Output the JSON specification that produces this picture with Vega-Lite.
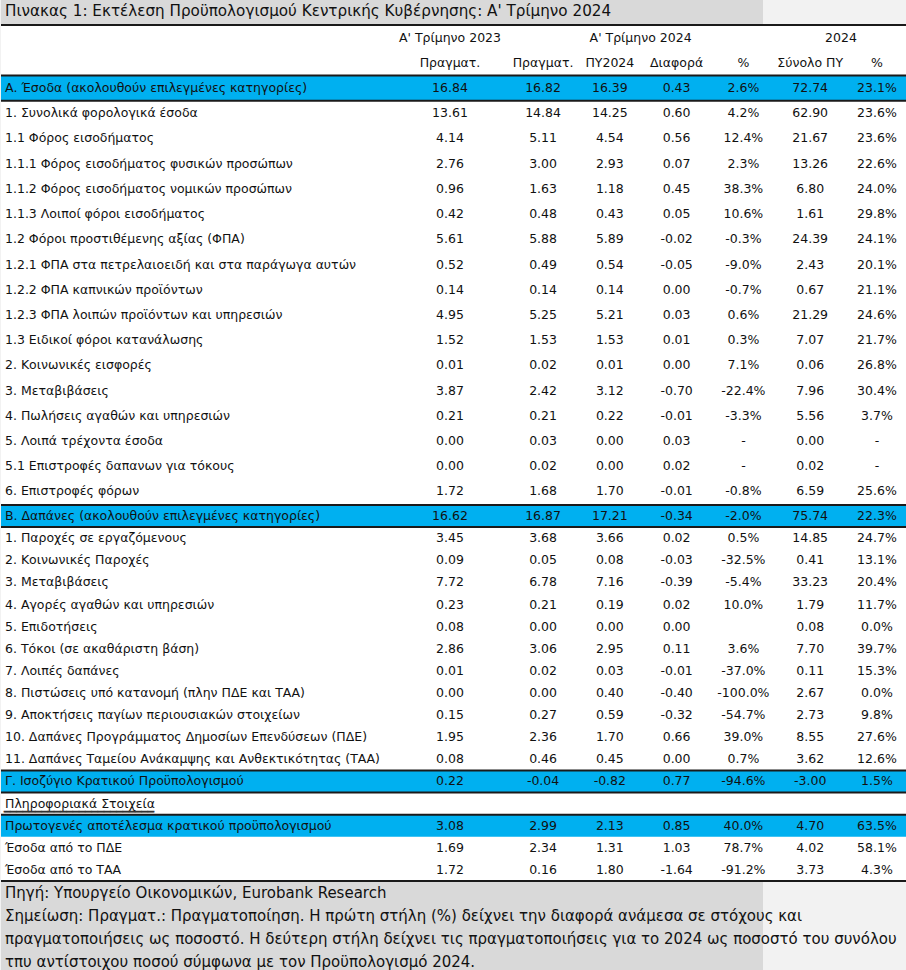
{
  "$schema": "https://vega.github.io/schema/vega-lite/v6.json",
  "background": "#f2f2f2",
  "padding": 0,
  "spacing": 0,
  "config": {"view": {"stroke": null}, "text": {"font": "DejaVu Sans", "color": "#111111"}},
  "datasets": {
    "title": [{"text": "Πινακας 1: Εκτέλεση Προϋπολογισμού Κεντρικής Κυβέρνησης: Α' Τρίμηνο 2024"}],
    "s1": [
      {"i": 0, "kind": "header", "label": "", "c1": "Α' Τρίμηνο 2023", "c2": "", "c3": "", "c4": "", "c5": "", "c6": "", "c7": ""},
      {"i": 1, "kind": "header", "label": "", "c1": "Πραγματ.", "c2": "Πραγματ.", "c3": "ΠΥ2024", "c4": "Διαφορά", "c5": "%", "c6": "Σύνολο ΠΥ", "c7": "%"},
      {"i": 2, "kind": "total", "label": "Α. Έσοδα (ακολουθούν επιλεγμένες κατηγορίες)", "c1": "16.84", "c2": "16.82", "c3": "16.39", "c4": "0.43", "c5": "2.6%", "c6": "72.74", "c7": "23.1%"},
      {"i": 3, "kind": "item", "label": "1. Συνολικά φορολογικά έσοδα", "c1": "13.61", "c2": "14.84", "c3": "14.25", "c4": "0.60", "c5": "4.2%", "c6": "62.90", "c7": "23.6%"},
      {"i": 4, "kind": "item", "label": "1.1 Φόρος εισοδήματος", "c1": "4.14", "c2": "5.11", "c3": "4.54", "c4": "0.56", "c5": "12.4%", "c6": "21.67", "c7": "23.6%"},
      {"i": 5, "kind": "item", "label": "1.1.1 Φόρος εισοδήματος φυσικών προσώπων", "c1": "2.76", "c2": "3.00", "c3": "2.93", "c4": "0.07", "c5": "2.3%", "c6": "13.26", "c7": "22.6%"},
      {"i": 6, "kind": "item", "label": "1.1.2 Φόρος εισοδήματος νομικών προσώπων", "c1": "0.96", "c2": "1.63", "c3": "1.18", "c4": "0.45", "c5": "38.3%", "c6": "6.80", "c7": "24.0%"},
      {"i": 7, "kind": "item", "label": "1.1.3 Λοιποί φόροι εισοδήματος", "c1": "0.42", "c2": "0.48", "c3": "0.43", "c4": "0.05", "c5": "10.6%", "c6": "1.61", "c7": "29.8%"},
      {"i": 8, "kind": "item", "label": "1.2 Φόροι προστιθέμενης αξίας (ΦΠΑ)", "c1": "5.61", "c2": "5.88", "c3": "5.89", "c4": "-0.02", "c5": "-0.3%", "c6": "24.39", "c7": "24.1%"},
      {"i": 9, "kind": "item", "label": "1.2.1 ΦΠΑ στα πετρελαιοειδή και στα παράγωγα αυτών", "c1": "0.52", "c2": "0.49", "c3": "0.54", "c4": "-0.05", "c5": "-9.0%", "c6": "2.43", "c7": "20.1%"},
      {"i": 10, "kind": "item", "label": "1.2.2 ΦΠΑ καπνικών προϊόντων", "c1": "0.14", "c2": "0.14", "c3": "0.14", "c4": "0.00", "c5": "-0.7%", "c6": "0.67", "c7": "21.1%"},
      {"i": 11, "kind": "item", "label": "1.2.3 ΦΠΑ λοιπών προϊόντων και υπηρεσιών", "c1": "4.95", "c2": "5.25", "c3": "5.21", "c4": "0.03", "c5": "0.6%", "c6": "21.29", "c7": "24.6%"},
      {"i": 12, "kind": "item", "label": "1.3 Ειδικοί φόροι κατανάλωσης", "c1": "1.52", "c2": "1.53", "c3": "1.53", "c4": "0.01", "c5": "0.3%", "c6": "7.07", "c7": "21.7%"},
      {"i": 13, "kind": "item", "label": "2. Κοινωνικές εισφορές", "c1": "0.01", "c2": "0.02", "c3": "0.01", "c4": "0.00", "c5": "7.1%", "c6": "0.06", "c7": "26.8%"},
      {"i": 14, "kind": "item", "label": "3. Μεταβιβάσεις", "c1": "3.87", "c2": "2.42", "c3": "3.12", "c4": "-0.70", "c5": "-22.4%", "c6": "7.96", "c7": "30.4%"},
      {"i": 15, "kind": "item", "label": "4. Πωλήσεις αγαθών και υπηρεσιών", "c1": "0.21", "c2": "0.21", "c3": "0.22", "c4": "-0.01", "c5": "-3.3%", "c6": "5.56", "c7": "3.7%"},
      {"i": 16, "kind": "item", "label": "5. Λοιπά τρέχοντα έσοδα", "c1": "0.00", "c2": "0.03", "c3": "0.00", "c4": "0.03", "c5": "-", "c6": "0.00", "c7": "-"},
      {"i": 17, "kind": "item", "label": "5.1 Επιστροφές δαπανων για τόκους", "c1": "0.00", "c2": "0.02", "c3": "0.00", "c4": "0.02", "c5": "-", "c6": "0.02", "c7": "-"},
      {"i": 18, "kind": "item", "label": "6. Επιστροφές φόρων", "c1": "1.72", "c2": "1.68", "c3": "1.70", "c4": "-0.01", "c5": "-0.8%", "c6": "6.59", "c7": "25.6%"}
    ],
    "g1": [
      {"i": 0, "key": "c4", "text": "Α' Τρίμηνο 2024"},
      {"i": 0, "key": "c7", "text": "2024"}
    ],
    "b1": [
      {"i": 0, "edge": "top"},
      {"i": 2, "edge": "top"},
      {"i": 2, "edge": "bottom"}
    ],
    "s2": [
      {"i": 0, "kind": "total", "label": "Β. Δαπάνες (ακολουθούν επιλεγμένες κατηγορίες)", "c1": "16.62", "c2": "16.87", "c3": "17.21", "c4": "-0.34", "c5": "-2.0%", "c6": "75.74", "c7": "22.3%"},
      {"i": 1, "kind": "item", "label": "1. Παροχές σε εργαζόμενους", "c1": "3.45", "c2": "3.68", "c3": "3.66", "c4": "0.02", "c5": "0.5%", "c6": "14.85", "c7": "24.7%"},
      {"i": 2, "kind": "item", "label": "2. Κοινωνικές Παροχές", "c1": "0.09", "c2": "0.05", "c3": "0.08", "c4": "-0.03", "c5": "-32.5%", "c6": "0.41", "c7": "13.1%"},
      {"i": 3, "kind": "item", "label": "3. Μεταβιβάσεις", "c1": "7.72", "c2": "6.78", "c3": "7.16", "c4": "-0.39", "c5": "-5.4%", "c6": "33.23", "c7": "20.4%"},
      {"i": 4, "kind": "item", "label": "4. Αγορές αγαθών και υπηρεσιών", "c1": "0.23", "c2": "0.21", "c3": "0.19", "c4": "0.02", "c5": "10.0%", "c6": "1.79", "c7": "11.7%"},
      {"i": 5, "kind": "item", "label": "5. Επιδοτήσεις", "c1": "0.08", "c2": "0.00", "c3": "0.00", "c4": "0.00", "c5": "", "c6": "0.08", "c7": "0.0%"},
      {"i": 6, "kind": "item", "label": "6. Τόκοι (σε ακαθάριστη βάση)", "c1": "2.86", "c2": "3.06", "c3": "2.95", "c4": "0.11", "c5": "3.6%", "c6": "7.70", "c7": "39.7%"},
      {"i": 7, "kind": "item", "label": "7. Λοιπές δαπάνες", "c1": "0.01", "c2": "0.02", "c3": "0.03", "c4": "-0.01", "c5": "-37.0%", "c6": "0.11", "c7": "15.3%"},
      {"i": 8, "kind": "item", "label": "8. Πιστώσεις υπό κατανομή (πλην ΠΔΕ και ΤΑΑ)", "c1": "0.00", "c2": "0.00", "c3": "0.40", "c4": "-0.40", "c5": "-100.0%", "c6": "2.67", "c7": "0.0%"},
      {"i": 9, "kind": "item", "label": "9. Αποκτήσεις παγίων περιουσιακών στοιχείων", "c1": "0.15", "c2": "0.27", "c3": "0.59", "c4": "-0.32", "c5": "-54.7%", "c6": "2.73", "c7": "9.8%"},
      {"i": 10, "kind": "item", "label": "10. Δαπάνες Προγράμματος Δημοσίων Επενδύσεων (ΠΔΕ)", "c1": "1.95", "c2": "2.36", "c3": "1.70", "c4": "0.66", "c5": "39.0%", "c6": "8.55", "c7": "27.6%"},
      {"i": 11, "kind": "item", "label": "11. Δαπάνες Ταμείου Ανάκαμψης και Ανθεκτικότητας (ΤΑΑ)", "c1": "0.08", "c2": "0.46", "c3": "0.45", "c4": "0.00", "c5": "0.7%", "c6": "3.62", "c7": "12.6%"},
      {"i": 12, "kind": "total", "label": "Γ. Ισοζύγιο Κρατικού Προϋπολογισμού", "c1": "0.22", "c2": "-0.04", "c3": "-0.82", "c4": "0.77", "c5": "-94.6%", "c6": "-3.00", "c7": "1.5%"},
      {"i": 13, "kind": "subhead", "label": "Πληροφοριακά Στοιχεία", "c1": "", "c2": "", "c3": "", "c4": "", "c5": "", "c6": "", "c7": ""},
      {"i": 14, "kind": "total", "label": "Πρωτογενές αποτέλεσμα κρατικού προϋπολογισμού", "c1": "3.08", "c2": "2.99", "c3": "2.13", "c4": "0.85", "c5": "40.0%", "c6": "4.70", "c7": "63.5%"},
      {"i": 15, "kind": "item", "label": "Έσοδα από το ΠΔΕ", "c1": "1.69", "c2": "2.34", "c3": "1.31", "c4": "1.03", "c5": "78.7%", "c6": "4.02", "c7": "58.1%"},
      {"i": 16, "kind": "item", "label": "Έσοδα από το ΤΑΑ", "c1": "1.72", "c2": "0.16", "c3": "1.80", "c4": "-1.64", "c5": "-91.2%", "c6": "3.73", "c7": "4.3%"}
    ],
    "b2": [
      {"i": 0, "edge": "top"},
      {"i": 0, "edge": "bottom"},
      {"i": 12, "edge": "top"},
      {"i": 12, "edge": "bottom"},
      {"i": 14, "edge": "top"},
      {"i": 16, "edge": "bottom"}
    ],
    "notes": [
      {"i": 0, "text": "Πηγή: Υπουργείο Οικονομικών, Eurobank Research"},
      {"i": 1, "text": "Σημείωση: Πραγματ.: Πραγματοποίηση. Η πρώτη στήλη (%) δείχνει την διαφορά ανάμεσα σε στόχους και"},
      {"i": 2, "text": "πραγματοποιήσεις ως ποσοστό. Η δεύτερη στήλη δείχνει τις πραγματοποιήσεις για το 2024 ως ποσοστό του συνόλου"},
      {"i": 3, "text": "τπυ αντίστοιχου ποσού σύμφωνα με τον Προϋπολογισμό 2024."}
    ]
  },
  "vconcat": [
    {
      "width": 762,
      "height": 24,
      "view": {"fill": "#d9d9d9", "stroke": null},
      "data": {"name": "title"},
      "mark": {"type": "text", "align": "left", "baseline": "middle", "dx": 4, "dy": -1, "fontSize": 15.2},
      "encoding": {
        "x": {"datum": 0, "type": "quantitative", "scale": {"domain": [0, 1]}, "axis": null},
        "text": {"field": "text"}
      }
    },
    {
      "hconcat": [
        {
          "width": 386,
          "height": 479,
          "view": {"fill": "white", "stroke": null},
          "layer": [
            {"data": {"name": "s1"}, "transform": [{"filter": "datum.kind === 'total'"}], "mark": {"type": "rect", "color": "#00b0f0"}, "encoding": {"y": {"field": "i", "type": "ordinal", "axis": null, "scale": {"paddingInner": 0, "paddingOuter": 0}}}},
            {"data": {"name": "s1"}, "mark": {"type": "text", "align": "left", "baseline": "middle", "dx": 4, "fontSize": 12.5}, "encoding": {"y": {"field": "i", "type": "ordinal", "axis": null}, "x": {"datum": 0, "type": "quantitative", "scale": {"domain": [0, 1]}, "axis": null}, "text": {"field": "label"}}},
            {"data": {"name": "b1"}, "transform": [{"filter": "datum.edge === 'top'"}], "mark": {"type": "rule", "color": "#1a1a1a", "strokeWidth": 2}, "encoding": {"y": {"field": "i", "type": "ordinal", "axis": null, "bandPosition": 0}}},
            {"data": {"name": "b1"}, "transform": [{"filter": "datum.edge === 'bottom'"}], "mark": {"type": "rule", "color": "#1a1a1a", "strokeWidth": 2}, "encoding": {"y": {"field": "i", "type": "ordinal", "axis": null, "bandPosition": 1}}}
          ]
        },
        {
          "width": 126,
          "height": 479,
          "view": {"fill": "white", "stroke": null},
          "layer": [
            {"data": {"name": "s1"}, "transform": [{"filter": "datum.kind === 'total'"}], "mark": {"type": "rect", "color": "#00b0f0"}, "encoding": {"y": {"field": "i", "type": "ordinal", "axis": null, "scale": {"paddingInner": 0, "paddingOuter": 0}}}},
            {"data": {"name": "s1"}, "mark": {"type": "text", "align": "center", "baseline": "middle", "fontSize": 12.5}, "encoding": {"y": {"field": "i", "type": "ordinal", "axis": null}, "text": {"field": "c1"}}},
            {"data": {"name": "b1"}, "transform": [{"filter": "datum.edge === 'top'"}], "mark": {"type": "rule", "color": "#1a1a1a", "strokeWidth": 2}, "encoding": {"y": {"field": "i", "type": "ordinal", "axis": null, "bandPosition": 0}}},
            {"data": {"name": "b1"}, "transform": [{"filter": "datum.edge === 'bottom'"}], "mark": {"type": "rule", "color": "#1a1a1a", "strokeWidth": 2}, "encoding": {"y": {"field": "i", "type": "ordinal", "axis": null, "bandPosition": 1}}}
          ]
        },
        {
          "width": 394,
          "height": 479,
          "view": {"fill": "white", "stroke": null},
          "layer": [
            {"data": {"name": "s1"}, "transform": [{"filter": "datum.kind === 'total'"}], "mark": {"type": "rect", "color": "#00b0f0"}, "encoding": {"y": {"field": "i", "type": "ordinal", "axis": null, "scale": {"paddingInner": 0, "paddingOuter": 0}}}},
            {"data": {"name": "s1"}, "transform": [{"fold": ["c2", "c3", "c4", "c5", "c6", "c7"], "as": ["key", "val"]}], "mark": {"type": "text", "align": "center", "baseline": "middle", "fontSize": 12.5}, "encoding": {"y": {"field": "i", "type": "ordinal", "axis": null}, "x": {"field": "key", "type": "nominal", "axis": null, "scale": {"type": "point", "padding": 0.45, "domain": ["c2", "c3", "c4", "c5", "c6", "c7"]}}, "text": {"field": "val"}}},
            {"data": {"name": "g1"}, "mark": {"type": "text", "align": "center", "baseline": "middle", "fontSize": 12.5, "dx": -36}, "encoding": {"y": {"field": "i", "type": "ordinal", "axis": null}, "x": {"field": "key", "type": "nominal", "axis": null}, "text": {"field": "text"}}},
            {"data": {"name": "b1"}, "transform": [{"filter": "datum.edge === 'top'"}], "mark": {"type": "rule", "color": "#1a1a1a", "strokeWidth": 2}, "encoding": {"y": {"field": "i", "type": "ordinal", "axis": null, "bandPosition": 0}}},
            {"data": {"name": "b1"}, "transform": [{"filter": "datum.edge === 'bottom'"}], "mark": {"type": "rule", "color": "#1a1a1a", "strokeWidth": 2}, "encoding": {"y": {"field": "i", "type": "ordinal", "axis": null, "bandPosition": 1}}}
          ]
        }
      ],
      "spacing": 0,
      "bounds": "flush"
    },
    {
      "hconcat": [
        {
          "width": 386,
          "height": 376,
          "view": {"fill": "white", "stroke": null},
          "layer": [
            {"data": {"name": "s2"}, "transform": [{"filter": "datum.kind === 'total'"}], "mark": {"type": "rect", "color": "#00b0f0"}, "encoding": {"y": {"field": "i", "type": "ordinal", "axis": null, "scale": {"paddingInner": 0, "paddingOuter": 0}}}},
            {"data": {"name": "s2"}, "mark": {"type": "text", "align": "left", "baseline": "middle", "dx": 4, "fontSize": 12.5}, "encoding": {"y": {"field": "i", "type": "ordinal", "axis": null}, "x": {"datum": 0, "type": "quantitative", "scale": {"domain": [0, 1]}, "axis": null}, "text": {"field": "label"}}},
            {"data": {"name": "s2"}, "transform": [{"filter": "datum.kind === 'subhead'"}], "mark": {"type": "text", "align": "left", "baseline": "middle", "dx": 3, "dy": 1.5, "fontSize": 12.5, "fontWeight": "bold", "color": "#333333", "stroke": "#333333", "strokeWidth": 0.7}, "encoding": {"y": {"field": "i", "type": "ordinal", "axis": null}, "x": {"datum": 0, "type": "quantitative", "scale": {"domain": [0, 1]}, "axis": null}, "text": {"value": "________________________"}}},
            {"data": {"name": "b2"}, "transform": [{"filter": "datum.edge === 'top'"}], "mark": {"type": "rule", "color": "#1a1a1a", "strokeWidth": 2}, "encoding": {"y": {"field": "i", "type": "ordinal", "axis": null, "bandPosition": 0}}},
            {"data": {"name": "b2"}, "transform": [{"filter": "datum.edge === 'bottom'"}], "mark": {"type": "rule", "color": "#1a1a1a", "strokeWidth": 2}, "encoding": {"y": {"field": "i", "type": "ordinal", "axis": null, "bandPosition": 1}}}
          ]
        },
        {
          "width": 126,
          "height": 376,
          "view": {"fill": "white", "stroke": null},
          "layer": [
            {"data": {"name": "s2"}, "transform": [{"filter": "datum.kind === 'total'"}], "mark": {"type": "rect", "color": "#00b0f0"}, "encoding": {"y": {"field": "i", "type": "ordinal", "axis": null, "scale": {"paddingInner": 0, "paddingOuter": 0}}}},
            {"data": {"name": "s2"}, "mark": {"type": "text", "align": "center", "baseline": "middle", "fontSize": 12.5}, "encoding": {"y": {"field": "i", "type": "ordinal", "axis": null}, "text": {"field": "c1"}}},
            {"data": {"name": "b2"}, "transform": [{"filter": "datum.edge === 'top'"}], "mark": {"type": "rule", "color": "#1a1a1a", "strokeWidth": 2}, "encoding": {"y": {"field": "i", "type": "ordinal", "axis": null, "bandPosition": 0}}},
            {"data": {"name": "b2"}, "transform": [{"filter": "datum.edge === 'bottom'"}], "mark": {"type": "rule", "color": "#1a1a1a", "strokeWidth": 2}, "encoding": {"y": {"field": "i", "type": "ordinal", "axis": null, "bandPosition": 1}}}
          ]
        },
        {
          "width": 394,
          "height": 376,
          "view": {"fill": "white", "stroke": null},
          "layer": [
            {"data": {"name": "s2"}, "transform": [{"filter": "datum.kind === 'total'"}], "mark": {"type": "rect", "color": "#00b0f0"}, "encoding": {"y": {"field": "i", "type": "ordinal", "axis": null, "scale": {"paddingInner": 0, "paddingOuter": 0}}}},
            {"data": {"name": "s2"}, "transform": [{"fold": ["c2", "c3", "c4", "c5", "c6", "c7"], "as": ["key", "val"]}], "mark": {"type": "text", "align": "center", "baseline": "middle", "fontSize": 12.5}, "encoding": {"y": {"field": "i", "type": "ordinal", "axis": null}, "x": {"field": "key", "type": "nominal", "axis": null, "scale": {"type": "point", "padding": 0.45, "domain": ["c2", "c3", "c4", "c5", "c6", "c7"]}}, "text": {"field": "val"}}},
            {"data": {"name": "b2"}, "transform": [{"filter": "datum.edge === 'top'"}], "mark": {"type": "rule", "color": "#1a1a1a", "strokeWidth": 2}, "encoding": {"y": {"field": "i", "type": "ordinal", "axis": null, "bandPosition": 0}}},
            {"data": {"name": "b2"}, "transform": [{"filter": "datum.edge === 'bottom'"}], "mark": {"type": "rule", "color": "#1a1a1a", "strokeWidth": 2}, "encoding": {"y": {"field": "i", "type": "ordinal", "axis": null, "bandPosition": 1}}}
          ]
        }
      ],
      "spacing": 0,
      "bounds": "flush"
    },
    {
      "width": 762,
      "height": 91,
      "view": {"fill": "#d9d9d9", "stroke": null},
      "data": {"name": "notes"},
      "mark": {"type": "text", "align": "left", "baseline": "middle", "dx": 4, "fontSize": 15},
      "encoding": {
        "y": {"field": "i", "type": "ordinal", "axis": null, "scale": {"paddingInner": 0, "paddingOuter": 0}},
        "x": {"datum": 0, "type": "quantitative", "scale": {"domain": [0, 1]}, "axis": null},
        "text": {"field": "text"}
      }
    }
  ]
}
